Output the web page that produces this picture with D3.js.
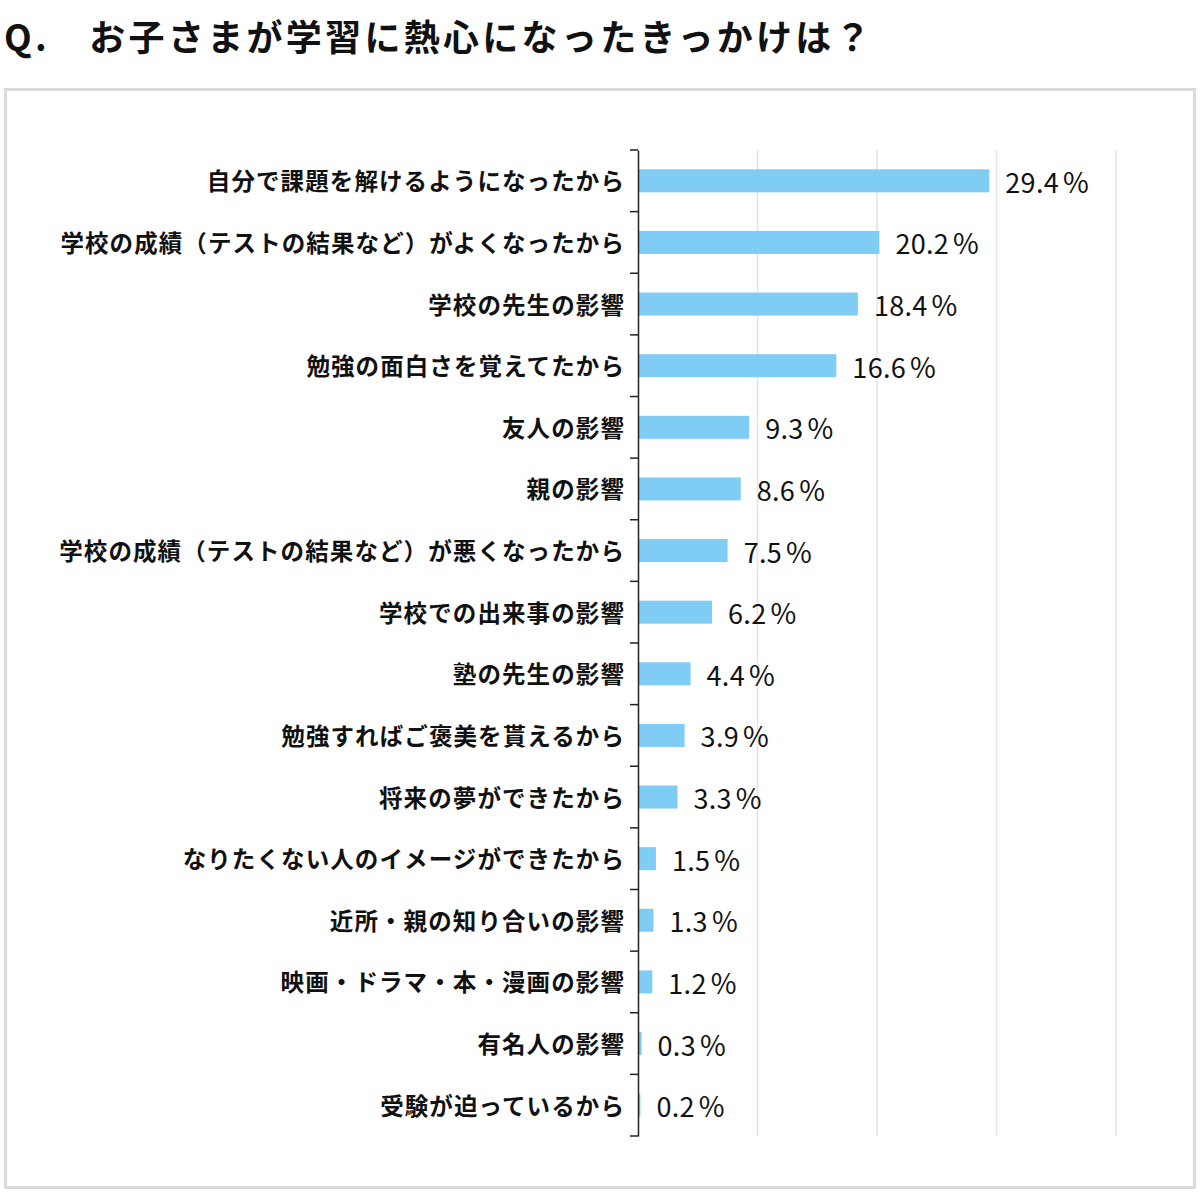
<!DOCTYPE html>
<html lang="ja">
<head>
<meta charset="utf-8">
<script src="https://cdn.jsdelivr.net/npm/d3@7"></script>
<style>
  html, body { margin: 0; padding: 0; background: #fff; }
  svg { display: block; }
  text { font-family: "Noto Sans CJK JP", "Noto Sans", sans-serif; fill: #111; }
</style>
</head>
<body>
<svg id="chart" width="1200" height="1193"></svg>
<script>
const title = "Q.　お子さまが学習に熱心になったきっかけは？";
const categories = [
  "自分で課題を解けるようになったから",
  "学校の成績（テストの結果など）がよくなったから",
  "学校の先生の影響",
  "勉強の面白さを覚えてたから",
  "友人の影響",
  "親の影響",
  "学校の成績（テストの結果など）が悪くなったから",
  "学校での出来事の影響",
  "塾の先生の影響",
  "勉強すればご褒美を貰えるから",
  "将来の夢ができたから",
  "なりたくない人のイメージができたから",
  "近所・親の知り合いの影響",
  "映画・ドラマ・本・漫画の影響",
  "有名人の影響",
  "受験が迫っているから"
];
const values = [29.4, 20.2, 18.4, 16.6, 9.3, 8.6, 7.5, 6.2, 4.4, 3.9, 3.3, 1.5, 1.3, 1.2, 0.3, 0.2];
const gridTicks = [10, 20, 30, 40];

const svg = d3.select("#chart");

// title
svg.append("text")
  .attr("x", 4).attr("y", 51)
  .attr("font-size", 36)
  .attr("font-weight", 700)
  .attr("letter-spacing", 3.3)
  .text(title);

// frame
svg.append("rect")
  .attr("x", 5.5).attr("y", 89.5)
  .attr("width", 1189).attr("height", 1098)
  .attr("fill", "none")
  .attr("stroke", "#dadada")
  .attr("stroke-width", 3);

const x = d3.scaleLinear().domain([0, 40]).range([638, 1116]);
const y = d3.scaleBand().domain(categories).range([150, 1136]).paddingInner(0).paddingOuter(0);
const barH = 23;

// gridlines
svg.append("g").selectAll("line").data(gridTicks).join("line")
  .attr("x1", d => x(d)).attr("x2", d => x(d))
  .attr("y1", 150).attr("y2", 1136)
  .attr("stroke", "#e3e3e3").attr("stroke-width", 1.5);

// bars
svg.append("g").selectAll("rect").data(values).join("rect")
  .attr("x", x(0))
  .attr("y", (d, i) => y(categories[i]) + y.bandwidth() / 2 - barH / 2)
  .attr("width", d => x(d) - x(0))
  .attr("height", barH)
  .attr("fill", "#7fcdf4");

// value labels
const vl = svg.append("g").selectAll("text").data(values).join("text")
  .attr("x", d => x(d) + 16)
  .attr("y", (d, i) => y(categories[i]) + y.bandwidth() / 2 + 12)
  .attr("font-size", 27)
  .attr("letter-spacing", 0.3);
vl.append("tspan").text(d => d3.format(".1f")(d));
vl.append("tspan").attr("dx", 4).attr("font-size", 28).text("%");

// y axis
const yAxis = d3.axisLeft(y).tickSize(0).tickPadding(13);
const ag = svg.append("g").attr("transform", `translate(${x(0)},0)`).call(yAxis);
ag.select(".domain").attr("stroke", "#222").attr("stroke-width", 1.5);
ag.selectAll(".tick text")
  .attr("y", 2)
  .attr("font-size", 23.5)
  .attr("font-weight", 700)
  .attr("letter-spacing", 1.1)
  .attr("fill", "#111")
  .attr("font-family", "'Noto Sans CJK JP', sans-serif");

// boundary ticks between categories
const bounds = categories.map(c => y(c)).concat([y.range()[1]]);
svg.append("g").selectAll("line").data(bounds).join("line")
  .attr("x1", x(0) - 8).attr("x2", x(0))
  .attr("y1", d => d).attr("y2", d => d)
  .attr("stroke", "#222").attr("stroke-width", 1.5);
</script>
</body>
</html>
